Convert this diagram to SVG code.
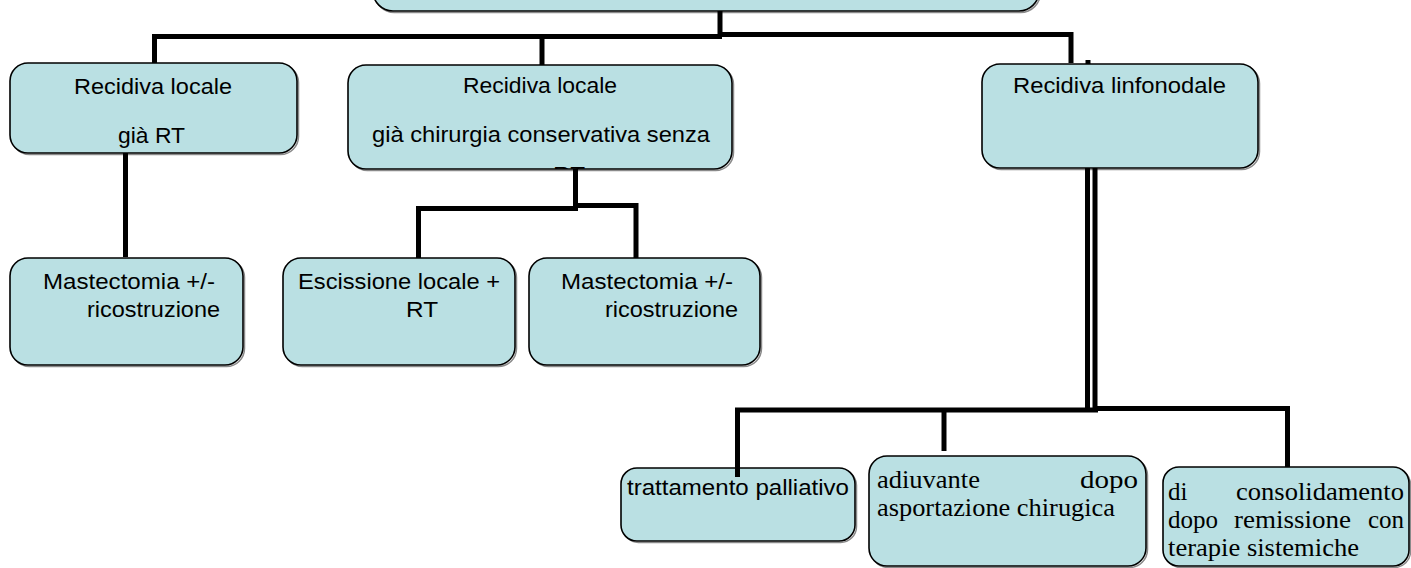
<svg xmlns="http://www.w3.org/2000/svg" width="1411" height="568" viewBox="0 0 1411 568">
<style>
.box{fill:#bae0e3;stroke:#000;stroke-width:1.6}
.sh{fill:none;stroke:#8a8a8a;stroke-width:1.5}
.t{font-family:"Liberation Sans",Arial,sans-serif;font-size:22px;fill:#000}
.s{font-family:"Liberation Serif","Times New Roman",serif;font-size:25px;fill:#000}
.c{fill:none;stroke:#000;stroke-width:5;stroke-linejoin:miter;stroke-linecap:butt}
</style>
<defs>
<clipPath id="clipB2"><rect x="348" y="65" width="384" height="104" rx="18"/></clipPath>
</defs>
<rect width="1411" height="568" fill="#fff"/>
<g id="top">
<rect class="sh" x="374.5" y="-57" width="666" height="69.5" rx="20"/>
<rect class="box" x="373" y="-58" width="666" height="69" rx="20"/>
</g>
<g id="b1">
<rect class="sh" x="11.5" y="64.5" width="287" height="90" rx="18"/>
<rect class="box" x="10" y="63" width="287" height="90" rx="18"/>
<text class="t" x="74" y="94" textLength="158" lengthAdjust="spacingAndGlyphs">Recidiva locale</text>
<text class="t" x="118" y="143" textLength="67" lengthAdjust="spacingAndGlyphs">già RT</text>
</g>
<g id="b2">
<rect class="sh" x="349.5" y="66.5" width="384" height="104" rx="18"/>
<rect class="box" x="348" y="65" width="384" height="104" rx="18"/>
<text class="t" x="463" y="93" textLength="154" lengthAdjust="spacingAndGlyphs">Recidiva locale</text>
<text class="t" x="372" y="142" textLength="338" lengthAdjust="spacingAndGlyphs">già chirurgia conservativa senza</text>
<text class="t" x="553" y="182" textLength="32" lengthAdjust="spacingAndGlyphs" clip-path="url(#clipB2)">RT</text>
</g>
<g id="b3">
<rect class="sh" x="983.5" y="65.5" width="276" height="104" rx="18"/>
<rect class="box" x="982" y="64" width="276" height="104" rx="18"/>
<text class="t" x="1013" y="93" textLength="213" lengthAdjust="spacingAndGlyphs">Recidiva linfonodale</text>
</g>
<g id="m1">
<rect class="sh" x="11.5" y="259.5" width="233" height="107" rx="18"/>
<rect class="box" x="10" y="258" width="233" height="107" rx="18"/>
<text class="t" x="43" y="289" textLength="172" lengthAdjust="spacingAndGlyphs">Mastectomia +/-</text>
<text class="t" x="87" y="317" textLength="133" lengthAdjust="spacingAndGlyphs">ricostruzione</text>
</g>
<g id="e">
<rect class="sh" x="284.5" y="259.5" width="232" height="107" rx="18"/>
<rect class="box" x="283" y="258" width="232" height="107" rx="18"/>
<text class="t" x="298" y="289" textLength="202" lengthAdjust="spacingAndGlyphs">Escissione locale +</text>
<text class="t" x="406" y="317" textLength="32" lengthAdjust="spacingAndGlyphs">RT</text>
</g>
<g id="m2">
<rect class="sh" x="530.5" y="259.5" width="231" height="107" rx="18"/>
<rect class="box" x="529" y="258" width="231" height="107" rx="18"/>
<text class="t" x="561" y="289" textLength="172" lengthAdjust="spacingAndGlyphs">Mastectomia +/-</text>
<text class="t" x="605" y="317" textLength="133" lengthAdjust="spacingAndGlyphs">ricostruzione</text>
</g>
<g id="tp">
<rect class="sh" x="622.5" y="469.5" width="234" height="73" rx="16"/>
<rect class="box" x="621" y="468" width="234" height="73" rx="16"/>
<text class="t" x="627" y="495" font-size="21" textLength="222" lengthAdjust="spacingAndGlyphs">trattamento palliativo</text>
</g>
<g id="ad">
<rect class="sh" x="870.5" y="457.5" width="277" height="110" rx="18"/>
<rect class="box" x="869" y="456" width="277" height="110" rx="18"/>
<text class="s" x="877" y="488" textLength="103" lengthAdjust="spacingAndGlyphs">adiuvante</text>
<text class="s" x="1080" y="488" textLength="58" lengthAdjust="spacingAndGlyphs">dopo</text>
<text class="s" x="877" y="516" textLength="238" lengthAdjust="spacingAndGlyphs">asportazione chirugica</text>
</g>
<g id="co">
<rect class="sh" x="1164.5" y="468.5" width="246" height="99" rx="16"/>
<rect class="box" x="1163" y="467" width="246" height="99" rx="16"/>
<text class="s" x="1168" y="500">di</text>
<text class="s" x="1236" y="500" textLength="168" lengthAdjust="spacingAndGlyphs">consolidamento</text>
<text class="s" x="1168" y="528">dopo</text>
<text class="s" x="1234" y="528" textLength="117" lengthAdjust="spacingAndGlyphs">remissione</text>
<text class="s" x="1404" y="528" text-anchor="end">con</text>
<text class="s" x="1168" y="556" textLength="191" lengthAdjust="spacingAndGlyphs">terapie sistemiche</text>
</g>
<g id="connectors">
<path class="c" stroke-width="4" d="M720,11 V37"/>
<path class="c" d="M154.5,63 V36.5 H722"/>
<path class="c" d="M718,34.5 H1071 V63"/>
<path class="c" stroke-width="4" d="M542,38 V65"/>
<path class="c" stroke-width="4" d="M1088,60 V64"/>
<path class="c" d="M125.5,153 V257"/>
<path class="c" d="M575.5,169 V209"/>
<path class="c" d="M418.5,258 V208.5 H578"/>
<path class="c" d="M573,205.5 H636 V258"/>
<path class="c" d="M1087.5,168 V411"/>
<path class="c" d="M1095,168 V410"/>
<path class="c" stroke-width="6" d="M737.5,477 V410 H1098"/>
<path class="c" stroke-width="6" d="M1094,408.5 H1287.5 V467"/>
<path class="c" stroke-width="6" d="M944,410 V451"/>
</g>
</svg>
